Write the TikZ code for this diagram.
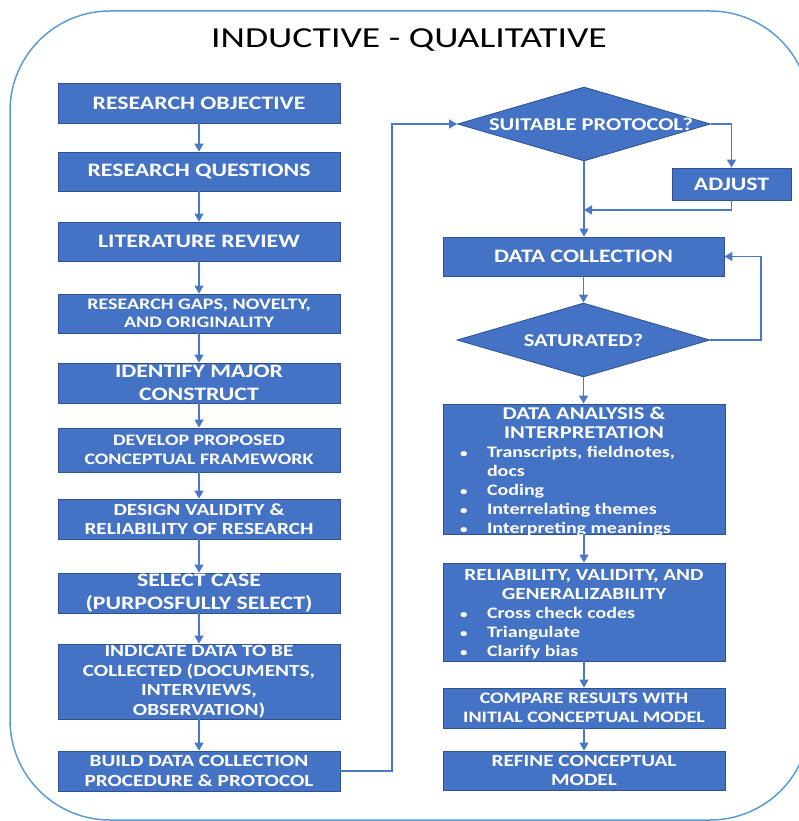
\documentclass[tikz,border=0pt]{standalone}
\usepackage{fontspec}
\setmainfont{Carlito}
\newfontfamily\bxf{Carlito}[FakeStretch=1.25]
\newfontfamily\ttlf{Carlito}[FakeStretch=1.3]
\usetikzlibrary{shapes.geometric,arrows.meta}
\definecolor{boxblue}{HTML}{4472C4}
\definecolor{boxedge}{HTML}{2F528F}
\definecolor{conn}{HTML}{4A78C8}
\definecolor{framec}{HTML}{5B9BD5}
\newcommand\bulitem{\hspace*{17pt}\makebox[27pt][l]{\fontsize{12}{12}\selectfont •}}
\tikzset{
  box/.style={draw=boxedge, line width=0.8pt, fill=boxblue, text=white,
    minimum width=282pt, inner sep=0pt, align=center,
    font=\bxf\bfseries\fontsize{17}{19.5}\selectfont},
  bigtxt/.style={font=\bxf\bfseries\fontsize{19}{23}\selectfont},
  smalltxt/.style={font=\bxf\bfseries\fontsize{16}{18.5}\selectfont},
  dia/.style={shape=diamond, draw=boxedge, line width=0.8pt, fill=boxblue, text=white,
    minimum width=253pt, minimum height=74pt, inner sep=0pt, aspect=3.4,
    font=\bxf\bfseries\fontsize{18}{20}\selectfont},
  arr/.style={draw=conn, line width=1.1pt, -{Triangle[length=8pt,width=9pt]}}
}
\begin{document}
\begin{tikzpicture}[x=1pt,y=-1pt]
\useasboundingbox (0,0) rectangle (799,821);
\begin{scope}
\clip (0,0) rectangle (799,821);
\draw[framec, line width=1.5pt, rounded corners=100pt] (10,11) rectangle (810,820);
\end{scope}
\node[font=\ttlf\fontsize{29}{31}\selectfont, text=black] (title) at (409,40) {INDUCTIVE - QUALITATIVE};
% left column
\node[box, bigtxt, minimum height=40pt] (ro) at (199,103) {RESEARCH OBJECTIVE};
\node[box, bigtxt, minimum height=39pt] (rq) at (199,171.5) {RESEARCH QUESTIONS};
\node[box, bigtxt, minimum height=39pt] (lr) at (199,241.5) {LITERATURE REVIEW};
\node[box, smalltxt, minimum height=39pt] (rg) at (199,313.5) {RESEARCH GAPS, NOVELTY,\\AND ORIGINALITY};
\node[box, bigtxt, minimum height=40pt] (im) at (199,383) {IDENTIFY MAJOR\\CONSTRUCT};
\node[box, smalltxt, minimum height=44pt] (dp) at (199,450) {DEVELOP PROPOSED\\CONCEPTUAL FRAMEWORK};
\node[box, minimum height=40pt] (dv) at (199,519) {DESIGN VALIDITY \&\\RELIABILITY OF RESEARCH};
\node[box, bigtxt, minimum height=40pt] (sc) at (199,593) {SELECT CASE\\(PURPOSFULLY SELECT)};
\node[box, minimum height=75pt] (idc) at (199,681.5) {INDICATE DATA TO BE\\COLLECTED (DOCUMENTS,\\INTERVIEWS,\\OBSERVATION)};
\node[box, minimum height=40pt] (bd) at (199,771) {BUILD DATA COLLECTION\\PROCEDURE \& PROTOCOL};
% right column
\node[dia] (sp) at (584,124) {\makebox[0pt][c]{\hspace*{14pt}SUITABLE PROTOCOL?}};
\node[box, bigtxt, minimum width=119pt, minimum height=32pt] (adj) at (731.5,184) {ADJUST};
\node[box, bigtxt, minimum width=281pt, minimum height=39pt] (dc) at (583.5,256.5) {DATA COLLECTION};
\node[dia] (sat) at (583.5,340) {\makebox[0pt][c]{SATURATED?}};
\node[box, minimum height=130pt] (ana) at (584,469) {\parbox{282pt}{\centering\fontsize{18}{19.5}\selectfont DATA ANALYSIS \&\\INTERPRETATION\par
  \raggedright\fontsize{16}{19}\selectfont
  \bulitem Transcripts, fieldnotes,\\\hspace*{44pt}docs\\
  \bulitem Coding\\
  \bulitem Interrelating themes\\
  \bulitem Interpreting meanings\vspace*{-5pt}}};
\node[box, minimum height=98pt] (rel) at (584,612) {\parbox{282pt}{\centering RELIABILITY, VALIDITY, AND\\GENERALIZABILITY\par
  \raggedright\fontsize{16}{19}\selectfont
  \bulitem Cross check codes\\
  \bulitem Triangulate\\
  \bulitem Clarify bias\vspace*{-4pt}}};
\node[box, smalltxt, minimum height=40pt] (cmp) at (584,708) {COMPARE RESULTS WITH\\INITIAL CONCEPTUAL MODEL};
\node[box, minimum height=39pt] (rf) at (584,770.5) {REFINE CONCEPTUAL\\MODEL};
% connectors left
\draw[arr] (ro) -- (rq);
\draw[arr] (rq) -- (lr);
\draw[arr] (lr) -- (rg);
\draw[arr] (rg) -- (im);
\draw[arr] (im) -- (dp);
\draw[arr] (dp) -- (dv);
\draw[arr] (dv) -- (sc);
\draw[arr] (sc) -- (idc);
\draw[arr] (idc) -- (bd);
% to right column
\coordinate (bturn) at (392,771);
\draw[arr] (bd.east) -- (bturn) |- (sp.west);
\draw[arr] (sp.east) -| (adj.north);
\coordinate (join) at (584,210);
\draw[arr] (adj.south) |- (join);
\draw[arr] (sp.south) -- (dc.north -| sp.south);
\draw[arr] (dc.south -| sat.north) -- (sat.north);
\coordinate (sturn) at (761,340);
\draw[arr] (sat.east) -- (sturn) |- (dc.east);
\draw[arr] (sat.south) -- (ana.north -| sat.south);
\draw[arr] (ana) -- (rel);
\draw[arr] (rel) -- (cmp);
\draw[arr] (cmp) -- (rf);
\end{tikzpicture}
\end{document}
